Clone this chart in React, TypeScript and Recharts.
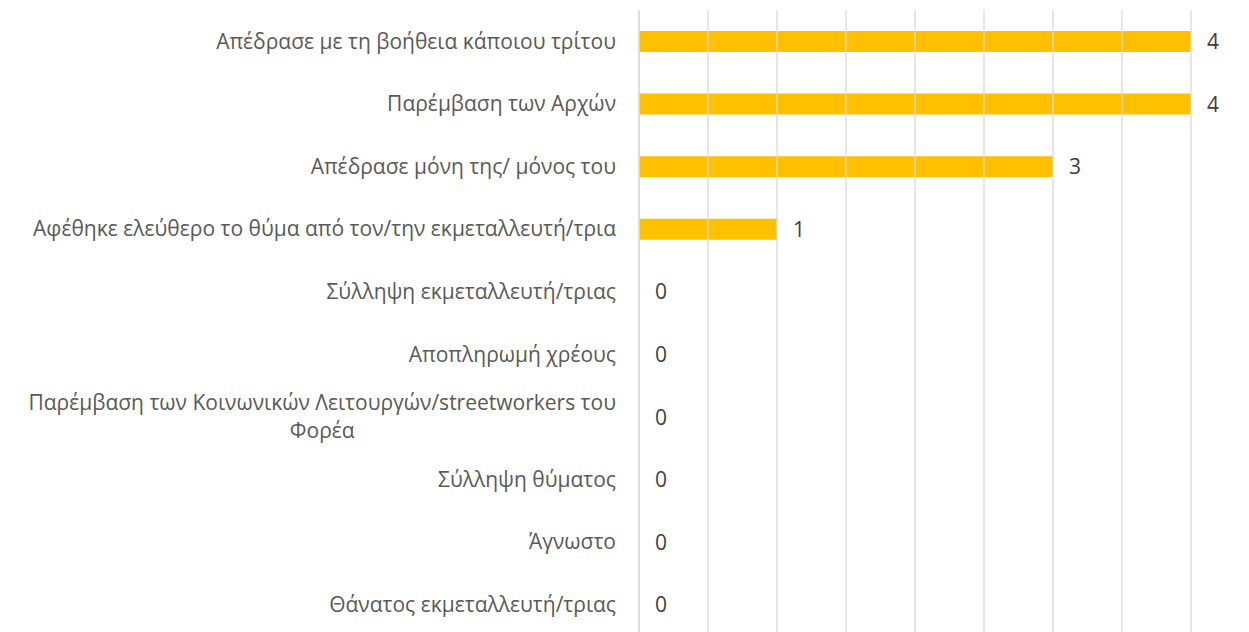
import React from 'react';
import { BarChart, Bar, XAxis, YAxis, CartesianGrid, LabelList, ReferenceLine } from 'recharts';

const outcomes = [
  'Απέδρασε με τη βοήθεια κάποιου τρίτου ',
  'Παρέμβαση των Αρχών',
  'Απέδρασε μόνη της/ μόνος του',
  'Αφέθηκε ελεύθερο το θύμα από τον/την εκμεταλλευτή/τρια',
  'Σύλληψη εκμεταλλευτή/τριας',
  'Αποπληρωμή χρέους',
  'Παρέμβαση των Κοινωνικών Λειτουργών/streetworkers του\nΦορέα',
  'Σύλληψη θύματος',
  'Άγνωστο',
  'Θάνατος εκμεταλλευτή/τριας'
];

const counts = [4, 4, 3, 1, 0, 0, 0, 0, 0, 0];

const gridTicks = [0, 0.5, 1, 1.5, 2, 2.5, 3, 3.5, 4];

const rows = outcomes.map((name, i) => ({ name, value: counts[i] }));

const FONT = '"Open Sans", "Noto Sans", sans-serif';
const FONT_SIZE = 21;

let ctx: CanvasRenderingContext2D | null = null;
const measure = (text: string) => {
  if (!ctx) ctx = document.createElement('canvas').getContext('2d');
  if (!ctx) return text.length * 10;
  ctx.font = `${FONT_SIZE}px "Open Sans"`;
  return ctx.measureText(text).width;
};

const CategoryTick = (props: any) => {
  const { x, y, payload } = props;
  const lines: string[] = String(payload.value).split('\n');
  const lineHeight = 28;
  const startY = y - ((lines.length - 1) * lineHeight) / 2;
  if (lines.length === 1) {
    return (
      <text x={x} y={y} dy="0.35em" textAnchor="end" fill="#595959" fontSize={FONT_SIZE} fontFamily={FONT}>
        {lines[0]}
      </text>
    );
  }
  const widest = Math.max(...lines.map(measure));
  const cx = x - widest / 2;
  return (
    <text x={cx} y={startY} textAnchor="middle" fill="#595959" fontSize={FONT_SIZE} fontFamily={FONT}>
      {lines.map((line, i) => (
        <tspan key={i} x={cx} y={startY + i * lineHeight} dy="0.35em">
          {line}
        </tspan>
      ))}
    </text>
  );
};

const App = () => {
  return (
    <div style={{ position: 'absolute', left: 0, top: 0, width: 1249, height: 632, overflow: 'hidden', background: '#fff' }}>
      <BarChart
        width={1249}
        height={640}
        data={rows}
        layout="vertical"
        margin={{ top: 10, right: 58, bottom: 4, left: 0 }}
      >
        <CartesianGrid horizontal={false} vertical={false} />
        <XAxis
          type="number"
          domain={[0, 4]}
          ticks={gridTicks}
          height={0}
          tick={false}
          axisLine={false}
          tickLine={false}
        />
        <YAxis
          type="category"
          dataKey="name"
          width={639}
          axisLine={{ stroke: '#D9D9D9', strokeWidth: 1.3 }}
          tickLine={false}
          tickMargin={17}
          interval={0}
          tick={<CategoryTick />}
        />
        {gridTicks.map((t) => (
          <ReferenceLine key={t} x={t} stroke="#D9D9D9" strokeWidth={1.3} />
        ))}
        <Bar dataKey="value" fill="#FFC000" barSize={21} minPointSize={0.01} isAnimationActive={false}>
          <LabelList
            dataKey="value"
            position="right"
            offset={16}
            fill="#404040"
            fontSize={FONT_SIZE}
            fontFamily={FONT}
          />
        </Bar>
      </BarChart>
    </div>
  );
};

export default App;
